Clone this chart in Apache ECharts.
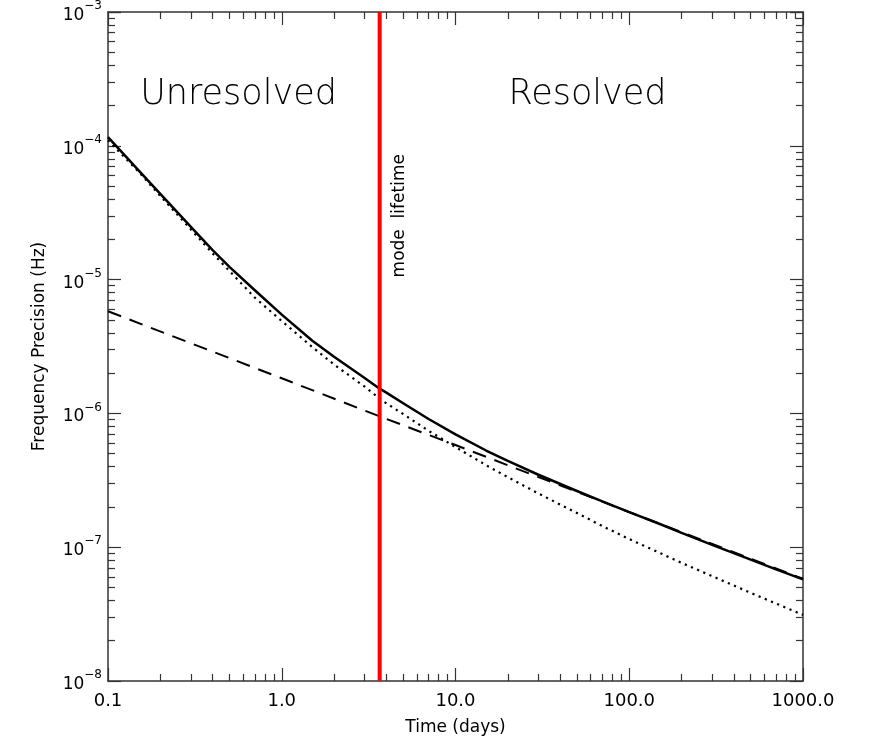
<!DOCTYPE html>
<html>
<head>
    <meta charset="UTF-8">
    <title>Frequency precision vs observing time</title>
    <script src="https://cdn.jsdelivr.net/npm/echarts@6.0.0/dist/echarts.min.js"></script>
    <style>
        html, body {
            margin: 0;
            padding: 0;
            background: #fff;
        }

        #chart {
            width: 871px;
            height: 746px;
        }
    </style>
</head>
<body>
<div id="chart"></div>

<script>
    // observing time (days)
    var times = [0.1, 0.15, 0.2, 0.3, 0.4, 0.5, 0.7, 1, 1.5, 2, 3, 3.66, 4, 5, 7, 10, 15, 20, 30, 50, 70, 100, 150, 200, 300, 500, 700, 1000];
    // solid curve
    var totalPrecision = [1.16e-4, 6.55e-5, 4.37e-5, 2.48e-5, 1.66e-5, 1.245e-5, 8.32e-6, 5.47e-6, 3.49e-6, 2.65e-6, 1.84e-6, 1.53e-6, 1.43e-6, 1.19e-6,
        9.08e-7, 6.97e-7, 5.28e-7, 4.41e-7, 3.48e-7, 2.63e-7, 2.20e-7, 1.83e-7, 1.49e-7, 1.28e-7, 1.04e-7, 8.07e-8, 6.82e-8, 5.75e-8];
    // dotted curve
    var unresolvedPrecision = [1.10e-4, 6.40e-5, 4.22e-5, 2.37e-5, 1.57e-5, 1.16e-5, 7.33e-6, 4.90e-6, 3.13e-6, 2.32e-6, 1.585e-6, 1.29e-6, 1.19e-6, 9.89e-7,
        7.41e-7, 5.60e-7, 4.10e-7, 3.34e-7, 2.52e-7, 1.80e-7, 1.44e-7, 1.15e-7, 9.06e-8, 7.64e-8, 6.08e-8, 4.56e-8, 3.79e-8, 3.12e-8];
    // dashed line
    var resolvedTimes = [0.1, 1, 3.66, 10, 100, 1000];
    var resolvedPrecision = [5.8e-6, 1.83e-6, 9.5e-7, 5.8e-7, 1.83e-7, 5.8e-8];

    var modeLifetime = 3.66;
    var precisionRange = [1e-8, 1e-3];

    var xTickLabels = ['0.1', '1.0', '10.0', '100.0', '1000.0'];
    var yTickExponents = ['\u22128', '\u22127', '\u22126', '\u22125', '\u22124', '\u22123'];

    var noteTexts = ['Unresolved', 'Resolved', 'mode  lifetime'];
    var notePositions = [[0.564, 2.40e-4], [57.5, 2.40e-4], [4.75, 3.0e-5]];

    function pairs(xs, ys) {
        return xs.map(function (x, i) {
            return [x, ys[i]];
        });
    }

    var font = 'DejaVu Sans';
    var frame = '#333';

    // one log axis; labels are added afterwards on the bottom / left ones
    function logAxis(pos, min, max) {
        return {
            type: 'log',
            logBase: 10,
            position: pos,
            min: min,
            max: max,
            axisLine: {show: true, onZero: false, lineStyle: {color: frame, width: 1.5}},
            axisTick: {show: true, inside: true, length: 13, lineStyle: {color: frame, width: 1.2}},
            minorTick: {show: true, splitNumber: 9, length: 7, lineStyle: {color: frame, width: 1.2}},
            splitLine: {show: false},
            minorSplitLine: {show: false},
            axisLabel: {show: false}
        };
    }

    var xBottom = logAxis('bottom', 0.1, 1000);
    xBottom.axisLabel = {
        show: true,
        margin: 11,
        color: '#000',
        fontFamily: font,
        fontSize: 18,
        formatter: function (v) {
            return xTickLabels[Math.round(Math.log10(v)) + 1];
        }
    };
    xBottom.name = 'Time (days)';
    xBottom.nameLocation = 'middle';
    xBottom.nameGap = 38;
    xBottom.nameTextStyle = {color: '#000', fontFamily: font, fontSize: 17};

    var yLeft = logAxis('left', precisionRange[0], precisionRange[1]);
    yLeft.axisLabel = {
        show: true,
        margin: 6,
        color: '#000',
        fontFamily: font,
        formatter: function (v) {
            return '{b|10}{s|' + yTickExponents[Math.round(Math.log10(v)) + 8] + '}';
        },
        rich: {
            b: {fontFamily: font, fontSize: 17, color: '#000', lineHeight: 24, verticalAlign: 'bottom'},
            s: {fontFamily: font, fontSize: 12, color: '#000', lineHeight: 12, verticalAlign: 'top'}
        }
    };
    yLeft.name = 'Frequency Precision (Hz)';
    yLeft.nameLocation = 'middle';
    yLeft.nameGap = 60;
    yLeft.nameTextStyle = {color: '#000', fontFamily: font, fontSize: 17};

    var chart = echarts.init(document.getElementById('chart'), null, {renderer: 'canvas'});

    chart.setOption({
        animation: false,
        backgroundColor: '#fff',
        grid: {left: 108, right: 68, top: 12, bottom: 65, containLabel: false},
        xAxis: [xBottom, logAxis('top', 0.1, 1000)],
        yAxis: [yLeft, logAxis('right', precisionRange[0], precisionRange[1])],
        series: [
            {
                name: 'unresolved',
                type: 'line',
                data: pairs(times, unresolvedPrecision),
                symbol: 'none',
                lineStyle: {color: '#000', width: 2.2, type: [2.2, 4.5]},
                z: 3
            },
            {
                name: 'resolved',
                type: 'line',
                data: pairs(resolvedTimes, resolvedPrecision),
                symbol: 'none',
                lineStyle: {color: '#000', width: 2, type: [14, 9]},
                z: 3
            },
            {
                name: 'total',
                type: 'line',
                data: pairs(times, totalPrecision),
                symbol: 'none',
                lineStyle: {color: '#000', width: 2.5, join: 'round'},
                z: 4
            },
            {
                name: 'mode lifetime',
                type: 'line',
                data: [[modeLifetime, precisionRange[0]], [modeLifetime, precisionRange[1]]],
                symbol: 'none',
                lineStyle: {color: '#ff0000', width: 4},
                z: 5
            },
            {
                name: 'notes',
                type: 'scatter',
                symbolSize: 0,
                silent: true,
                itemStyle: {opacity: 1},
                data: noteTexts.map(function (t, i) {
                    var big = i < 2;
                    return {
                        name: t,
                        value: notePositions[i],
                        label: {
                            show: true,
                            position: 'inside',
                            formatter: '{b}',
                            rotate: big ? 0 : 90,
                            color: '#000',
                            opacity: 1,
                            fontFamily: font,
                            fontWeight: big ? 300 : 'normal',
                            fontSize: big ? 35 : 17
                        }
                    };
                }),
                z: 6
            }
        ]
    });
</script>
</body>
</html>
